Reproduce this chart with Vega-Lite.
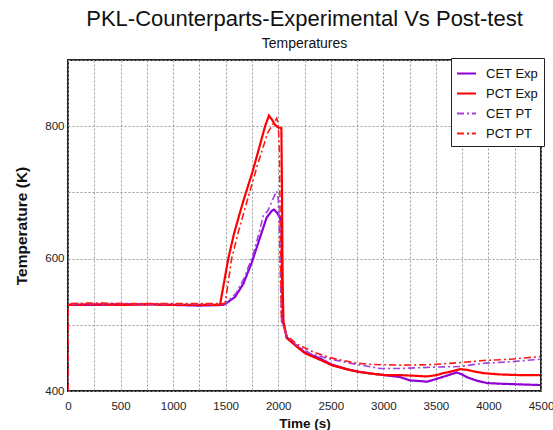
{
  "$schema": "https://vega.github.io/schema/vega-lite/v6.json",
  "autosize": "none",
  "width": 473,
  "height": 331,
  "padding": {"left": 68, "top": 60, "right": 12, "bottom": 39},
  "background": "white",
  "config": {
    "font": "Liberation Sans",
    "view": {"stroke": "#222", "strokeWidth": 2},
    "axis": {"labelFont": "Liberation Sans", "titleFont": "Liberation Sans", "labelColor": "#222", "titleColor": "#111"},
    "legend": {"strokeWidth": 1}
  },
  "title": {
    "text": "PKL-Counterparts-Experimental Vs Post-test",
    "subtitle": "Temperatures",
    "fontSize": 22,
    "fontWeight": "normal",
    "subtitleFontSize": 14,
    "font": "Liberation Sans",
    "subtitleFont": "Liberation Sans",
    "color": "#111",
    "subtitleColor": "#111",
    "anchor": "middle",
    "offset": 2,
    "subtitlePadding": 6
  },
  "datasets": {
    "exp": [
      {"t": 0, "T": 530, "s": "CET Exp"}, {"t": 250, "T": 530, "s": "CET Exp"}, {"t": 500, "T": 531, "s": "CET Exp"}, {"t": 750, "T": 531, "s": "CET Exp"}, {"t": 1000, "T": 530, "s": "CET Exp"}, {"t": 1250, "T": 529, "s": "CET Exp"}, {"t": 1480, "T": 530, "s": "CET Exp"}, {"t": 1500, "T": 532, "s": "CET Exp"}, {"t": 1589, "T": 542, "s": "CET Exp"}, {"t": 1668, "T": 562, "s": "CET Exp"}, {"t": 1748, "T": 594, "s": "CET Exp"}, {"t": 1827, "T": 632, "s": "CET Exp"}, {"t": 1890, "T": 662, "s": "CET Exp"}, {"t": 1938, "T": 672, "s": "CET Exp"}, {"t": 1960, "T": 674, "s": "CET Exp"}, {"t": 1985, "T": 670, "s": "CET Exp"}, {"t": 2017, "T": 662, "s": "CET Exp"}, {"t": 2030, "T": 650, "s": "CET Exp"}, {"t": 2038, "T": 560, "s": "CET Exp"}, {"t": 2045, "T": 505, "s": "CET Exp"}, {"t": 2060, "T": 495, "s": "CET Exp"}, {"t": 2081, "T": 481, "s": "CET Exp"}, {"t": 2176, "T": 468, "s": "CET Exp"}, {"t": 2255, "T": 458, "s": "CET Exp"}, {"t": 2400, "T": 449, "s": "CET Exp"}, {"t": 2509, "T": 440, "s": "CET Exp"}, {"t": 2650, "T": 433, "s": "CET Exp"}, {"t": 2762, "T": 429, "s": "CET Exp"}, {"t": 2900, "T": 426, "s": "CET Exp"}, {"t": 3010, "T": 424, "s": "CET Exp"}, {"t": 3159, "T": 421, "s": "CET Exp"}, {"t": 3254, "T": 416, "s": "CET Exp"}, {"t": 3350, "T": 415, "s": "CET Exp"}, {"t": 3413, "T": 414, "s": "CET Exp"}, {"t": 3480, "T": 417, "s": "CET Exp"}, {"t": 3540, "T": 420, "s": "CET Exp"}, {"t": 3620, "T": 424, "s": "CET Exp"}, {"t": 3698, "T": 428, "s": "CET Exp"}, {"t": 3750, "T": 425, "s": "CET Exp"}, {"t": 3793, "T": 421, "s": "CET Exp"}, {"t": 3880, "T": 416, "s": "CET Exp"}, {"t": 3984, "T": 412, "s": "CET Exp"}, {"t": 4110, "T": 411, "s": "CET Exp"}, {"t": 4300, "T": 410, "s": "CET Exp"}, {"t": 4491, "T": 409, "s": "CET Exp"},
      {"t": 0, "T": 530, "s": "PCT Exp"}, {"t": 250, "T": 531, "s": "PCT Exp"}, {"t": 500, "T": 530, "s": "PCT Exp"}, {"t": 750, "T": 531, "s": "PCT Exp"}, {"t": 1000, "T": 530, "s": "PCT Exp"}, {"t": 1250, "T": 530, "s": "PCT Exp"}, {"t": 1446, "T": 530, "s": "PCT Exp"}, {"t": 1480, "T": 560, "s": "PCT Exp"}, {"t": 1525, "T": 600, "s": "PCT Exp"}, {"t": 1580, "T": 638, "s": "PCT Exp"}, {"t": 1637, "T": 670, "s": "PCT Exp"}, {"t": 1670, "T": 688, "s": "PCT Exp"}, {"t": 1757, "T": 732, "s": "PCT Exp"}, {"t": 1820, "T": 768, "s": "PCT Exp"}, {"t": 1875, "T": 800, "s": "PCT Exp"}, {"t": 1912, "T": 816, "s": "PCT Exp"}, {"t": 1940, "T": 810, "s": "PCT Exp"}, {"t": 1970, "T": 802, "s": "PCT Exp"}, {"t": 2000, "T": 798, "s": "PCT Exp"}, {"t": 2030, "T": 797, "s": "PCT Exp"}, {"t": 2036, "T": 700, "s": "PCT Exp"}, {"t": 2042, "T": 560, "s": "PCT Exp"}, {"t": 2050, "T": 505, "s": "PCT Exp"}, {"t": 2081, "T": 480, "s": "PCT Exp"}, {"t": 2176, "T": 467, "s": "PCT Exp"}, {"t": 2255, "T": 457, "s": "PCT Exp"}, {"t": 2400, "T": 447, "s": "PCT Exp"}, {"t": 2509, "T": 439, "s": "PCT Exp"}, {"t": 2650, "T": 433, "s": "PCT Exp"}, {"t": 2762, "T": 429, "s": "PCT Exp"}, {"t": 2900, "T": 426, "s": "PCT Exp"}, {"t": 3010, "T": 424, "s": "PCT Exp"}, {"t": 3159, "T": 424, "s": "PCT Exp"}, {"t": 3300, "T": 423, "s": "PCT Exp"}, {"t": 3413, "T": 422, "s": "PCT Exp"}, {"t": 3508, "T": 424, "s": "PCT Exp"}, {"t": 3570, "T": 427, "s": "PCT Exp"}, {"t": 3635, "T": 429, "s": "PCT Exp"}, {"t": 3730, "T": 433, "s": "PCT Exp"}, {"t": 3793, "T": 432, "s": "PCT Exp"}, {"t": 3880, "T": 429, "s": "PCT Exp"}, {"t": 3952, "T": 427, "s": "PCT Exp"}, {"t": 4110, "T": 425, "s": "PCT Exp"}, {"t": 4300, "T": 424, "s": "PCT Exp"}, {"t": 4491, "T": 424, "s": "PCT Exp"}
    ],
    "pt": [
      {"t": 0, "T": 400, "s": "CET PT"}, {"t": 1, "T": 531, "s": "CET PT"}, {"t": 250, "T": 532, "s": "CET PT"}, {"t": 500, "T": 532, "s": "CET PT"}, {"t": 750, "T": 531, "s": "CET PT"}, {"t": 1000, "T": 531, "s": "CET PT"}, {"t": 1250, "T": 531, "s": "CET PT"}, {"t": 1500, "T": 532, "s": "CET PT"}, {"t": 1600, "T": 548, "s": "CET PT"}, {"t": 1680, "T": 572, "s": "CET PT"}, {"t": 1763, "T": 607, "s": "CET PT"}, {"t": 1820, "T": 640, "s": "CET PT"}, {"t": 1858, "T": 665, "s": "CET PT"}, {"t": 1900, "T": 672, "s": "CET PT"}, {"t": 1950, "T": 690, "s": "CET PT"}, {"t": 1985, "T": 702, "s": "CET PT"}, {"t": 2000, "T": 690, "s": "CET PT"}, {"t": 2012, "T": 640, "s": "CET PT"}, {"t": 2022, "T": 560, "s": "CET PT"}, {"t": 2032, "T": 505, "s": "CET PT"}, {"t": 2050, "T": 498, "s": "CET PT"}, {"t": 2081, "T": 482, "s": "CET PT"}, {"t": 2176, "T": 469, "s": "CET PT"}, {"t": 2300, "T": 457, "s": "CET PT"}, {"t": 2500, "T": 448, "s": "CET PT"}, {"t": 2652, "T": 443, "s": "CET PT"}, {"t": 2968, "T": 434, "s": "CET PT"}, {"t": 3159, "T": 434, "s": "CET PT"}, {"t": 3476, "T": 436, "s": "CET PT"}, {"t": 3730, "T": 437, "s": "CET PT"}, {"t": 3952, "T": 442, "s": "CET PT"}, {"t": 4206, "T": 444, "s": "CET PT"}, {"t": 4491, "T": 448, "s": "CET PT"},
      {"t": 0, "T": 400, "s": "PCT PT"}, {"t": 1, "T": 532, "s": "PCT PT"}, {"t": 250, "T": 533, "s": "PCT PT"}, {"t": 500, "T": 532, "s": "PCT PT"}, {"t": 750, "T": 532, "s": "PCT PT"}, {"t": 1000, "T": 532, "s": "PCT PT"}, {"t": 1250, "T": 532, "s": "PCT PT"}, {"t": 1494, "T": 532, "s": "PCT PT"}, {"t": 1530, "T": 570, "s": "PCT PT"}, {"t": 1557, "T": 600, "s": "PCT PT"}, {"t": 1620, "T": 640, "s": "PCT PT"}, {"t": 1713, "T": 692, "s": "PCT PT"}, {"t": 1800, "T": 740, "s": "PCT PT"}, {"t": 1900, "T": 790, "s": "PCT PT"}, {"t": 1960, "T": 806, "s": "PCT PT"}, {"t": 1985, "T": 812, "s": "PCT PT"}, {"t": 2000, "T": 803, "s": "PCT PT"}, {"t": 2012, "T": 760, "s": "PCT PT"}, {"t": 2022, "T": 600, "s": "PCT PT"}, {"t": 2030, "T": 510, "s": "PCT PT"}, {"t": 2050, "T": 500, "s": "PCT PT"}, {"t": 2081, "T": 484, "s": "PCT PT"}, {"t": 2176, "T": 471, "s": "PCT PT"}, {"t": 2334, "T": 459, "s": "PCT PT"}, {"t": 2500, "T": 450, "s": "PCT PT"}, {"t": 2747, "T": 442, "s": "PCT PT"}, {"t": 2900, "T": 440, "s": "PCT PT"}, {"t": 3190, "T": 439, "s": "PCT PT"}, {"t": 3476, "T": 440, "s": "PCT PT"}, {"t": 3730, "T": 443, "s": "PCT PT"}, {"t": 3952, "T": 446, "s": "PCT PT"}, {"t": 4206, "T": 448, "s": "PCT PT"}, {"t": 4491, "T": 452, "s": "PCT PT"}
    ]
  },
  "encoding": {
    "x": {
      "field": "t", "type": "quantitative",
      "scale": {"domain": [0, 4500], "nice": false, "zero": false},
      "axis": {
        "title": "Time (s)", "titleFontSize": 13.5, "titleFontWeight": "bold", "titlePadding": 5,
        "values": [0, 250, 500, 750, 1000, 1250, 1500, 1750, 2000, 2250, 2500, 2750, 3000, 3250, 3500, 3750, 4000, 4250, 4500],
        "labelExpr": "datum.value % 500 == 0 ? datum.label : ''",
        "format": "d",
        "labelFontSize": 11.5, "labelPadding": 9, "labelFlush": false, "labelOverlap": false,
        "ticks": false, "domain": false,
        "grid": true, "gridColor": "#9a9a9a", "gridDash": [2, 2], "gridWidth": 1, "gridOpacity": 1
      }
    },
    "y": {
      "field": "T", "type": "quantitative",
      "scale": {"domain": [400, 900], "nice": false, "zero": false},
      "axis": {
        "title": "Temperature (K)", "titleFontSize": 15.5, "titleFontWeight": "bold", "titlePadding": 15,
        "values": [400, 500, 600, 700, 800, 900],
        "labelExpr": "datum.value % 200 == 0 ? datum.label : ''",
        "labelFontSize": 11.5, "labelPadding": 4, "labelFlush": false, "labelOverlap": false,
        "ticks": false, "domain": false,
        "grid": true, "gridColor": "#9a9a9a", "gridDash": [2, 2], "gridWidth": 1, "gridOpacity": 1
      }
    },
    "color": {
      "field": "s", "type": "nominal",
      "scale": {"domain": ["CET Exp", "PCT Exp", "CET PT", "PCT PT"], "range": ["#8f00d6", "#ff0000", "#a040e0", "#ff1a1a"]},
      "legend": {
        "title": null, "orient": "none", "legendX": 383, "legendY": -2,
        "fillColor": "white", "strokeColor": "#222", "padding": 5,
        "symbolType": "stroke", "symbolSize": 361, "symbolStrokeWidth": 2,
        "labelFontSize": 13, "labelFont": "Liberation Sans", "labelColor": "#111", "labelOffset": 9,
        "rowPadding": 2
      }
    },
    "strokeDash": {
      "field": "s", "type": "nominal",
      "scale": {"domain": ["CET Exp", "PCT Exp", "CET PT", "PCT PT"], "range": [[1, 0], [1, 0], [7, 3, 2, 3], [7, 3, 2, 3]]},
      "legend": {"title": null}
    }
  },
  "layer": [
    {"data": {"name": "exp"}, "mark": {"type": "line", "strokeWidth": 2.2, "clip": true}},
    {"data": {"name": "pt"}, "mark": {"type": "line", "strokeWidth": 1.6, "clip": true}}
  ]
}
